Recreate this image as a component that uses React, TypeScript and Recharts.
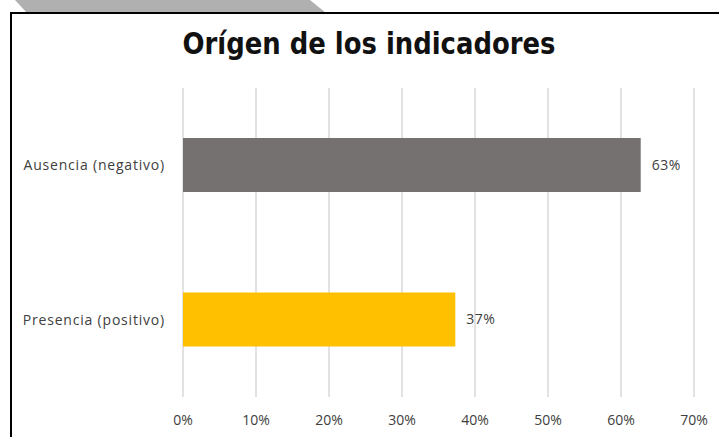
import { Bar, BarChart, CartesianGrid, Cell, LabelList, XAxis, YAxis } from 'recharts';

const categories = ['Ausencia (negativo)', 'Presencia (positivo)'];
const shares = [0.627, 0.373];
const barColors = ['#767171', '#FFC000'];
const xTicks = [0, 0.1, 0.2, 0.3, 0.4, 0.5, 0.6, 0.7];

const data = categories.map((label, i) => ({ label, value: shares[i] }));

const pct = (v: number) => `${Math.round(v * 100)}%`;
const labelFont = "'Open Sans', 'Liberation Sans', sans-serif";

export default function App() {
  return (
    <div
      style={{
        position: 'fixed',
        left: 0,
        top: 0,
        width: 719,
        height: 437,
        overflow: 'hidden',
        background: '#fff',
      }}
    >
      <svg width={719} height={437} style={{ position: 'absolute', left: 0, top: 0 }}>
        <polygon points="15,0 310,0 326,13 27,13" fill="#b0b0b0" />
        <rect x={11} y={13} width={740} height={460} fill="none" stroke="#000" strokeWidth={2} />
        <text
          x={369}
          y={54}
          textAnchor="middle"
          fontFamily="'DejaVu Sans', sans-serif"
          fontWeight="bold"
          fontSize={30}
          fill="#111"
          textLength={373}
          lengthAdjust="spacingAndGlyphs"
        >
          Orígen de los indicadores
        </text>
      </svg>
      <div style={{ position: 'absolute', left: 0, top: 0 }}>
        <BarChart
          width={719}
          height={437}
          data={data}
          layout="vertical"
          margin={{ top: 88, right: 25, bottom: 10, left: 0 }}
          barSize={54}
        >
          <CartesianGrid horizontal={false} stroke="#d9d9d9" strokeWidth={1.5} />
          <XAxis
            type="number"
            domain={[0, 0.7]}
            ticks={xTicks}
            tickFormatter={pct}
            axisLine={false}
            tickLine={false}
            height={30}
            tickMargin={12}
            tick={{ fill: '#404040', fontSize: 14, fontFamily: labelFont }}
          />
          <YAxis
            type="category"
            dataKey="label"
            width={183}
            axisLine={false}
            tickLine={false}
            tickSize={0}
            tickMargin={18}
            tick={{ fill: '#404040', fontSize: 14, fontFamily: labelFont, letterSpacing: 0.8 }}
          />
          <Bar dataKey="value" isAnimationActive={false}>
            {data.map((d, i) => (
              <Cell key={d.label} fill={barColors[i]} />
            ))}
            <LabelList
              dataKey="value"
              position="right"
              offset={11}
              formatter={(v: any) => pct(Number(v))}
              style={{ fill: '#404040', fontSize: 14, fontFamily: labelFont, letterSpacing: 0.5 }}
            />
          </Bar>
        </BarChart>
      </div>
    </div>
  );
}
